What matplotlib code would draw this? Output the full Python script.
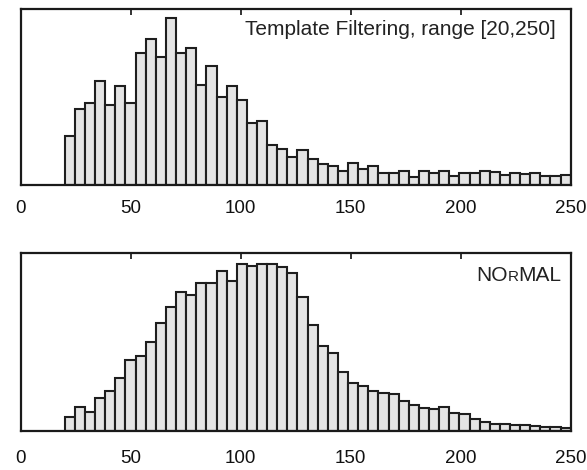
import numpy as np
import matplotlib
matplotlib.use("Agg")
import matplotlib.pyplot as plt

# Histogram bins: 50 bins spanning [20, 250]
bin_start = 20.0
bin_stop = 250.0
n_bins = 50

# Bar heights (arbitrary units)
template_counts = [49, 76.3, 82.3, 104, 79.7, 99.3, 82, 131.7, 145.7, 128,
                   167.3, 132.3, 136.7, 100, 119.3, 88.3, 99.3, 85, 61.7, 64,
                   39.7, 36.3, 28.3, 35, 26, 21, 19, 13.7, 21.7, 16,
                   18.5, 12.3, 12.3, 14, 7.5, 13.8, 12, 14, 9, 12.3,
                   11.7, 13.7, 12.7, 9.5, 11.5, 11, 11.7, 9, 9, 9.7]

normal_counts = [14, 24, 18.3, 32.3, 40, 53, 70.7, 75, 89, 108,
                 123.7, 138.3, 135.7, 148, 147.3, 159.3, 149.7, 167, 164.7, 166.3,
                 166.3, 163.3, 157.3, 134, 105.5, 84.7, 77.3, 59, 48, 45,
                 39.5, 37.5, 37, 29.7, 25.5, 22.7, 22.2, 23.5, 17.5, 16.7,
                 11.3, 9, 7, 6.8, 6, 5.3, 4.8, 3.8, 3.3, 2.5]

xticks = [0, 50, 100, 150, 200, 250]
top_label = "Template Filtering, range [20,250]"

plt.rcParams['font.family'] = ['Liberation Sans', 'DejaVu Sans']

fig = plt.figure(figsize=(5.87, 4.70), dpi=100)
ax1 = fig.add_axes([0.0353, 0.6064, 0.937, 0.3738])
ax2 = fig.add_axes([0.0353, 0.0836, 0.937, 0.3774])

edges = np.linspace(bin_start, bin_stop, n_bins + 1)
width = edges[1] - edges[0]

face = '#e4e4e4'
edge = '#1e1e1e'

for ax, counts, ytop in ((ax1, template_counts, 175.7), (ax2, normal_counts, 177.4)):
    ax.bar(edges[:-1], counts, width=width, align='edge', color=face,
           edgecolor=edge, linewidth=1.5, zorder=2)
    ax.set_xlim(0, 250)
    ax.set_ylim(0, ytop)
    ax.set_xticks(xticks)
    ax.set_xticklabels([str(t) for t in xticks])
    ax.set_yticks([])
    ax.tick_params(axis='x', direction='in', length=4, width=1.2, top=True,
                   bottom=True, labelsize=13.5, colors='#111111', pad=11)
    for s in ax.spines.values():
        s.set_linewidth(1.6)
        s.set_color('#1a1a1a')
        s.set_zorder(3)

ax2.tick_params(axis='x', pad=14)

ax1.text(0.973, 0.854, top_label, transform=ax1.transAxes, ha='right',
         va='baseline', fontsize=15, color='#222222')

# "NORMAL" in small caps (small R)
t_mal = ax2.text(0.9836, 0.8455, "MAL", transform=ax2.transAxes, ha='right',
                 va='baseline', fontsize=15, color='#222222')
t_r = ax2.annotate("R", xy=(0, 0.8455), xycoords=(t_mal, 'axes fraction'),
                   ha='right', va='baseline', fontsize=11, color='#222222')
t_no = ax2.annotate("NO", xy=(0, 0.8455), xycoords=(t_r, 'axes fraction'),
                    ha='right', va='baseline', fontsize=15, color='#222222')

fig.savefig("out.png", dpi=100)
